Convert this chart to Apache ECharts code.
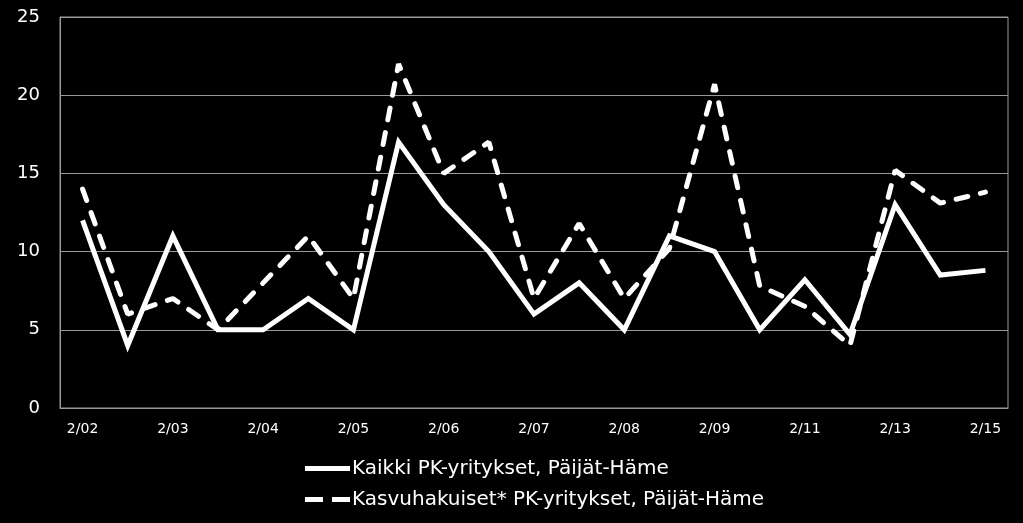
<!DOCTYPE html>
<html>
<head>
<meta charset="utf-8">
<script src="https://cdn.jsdelivr.net/npm/echarts@6/dist/echarts.min.js"></script>
<style>
  html, body { margin: 0; padding: 0; background: #000; }
  #chart { width: 1023px; height: 523px; }
</style>
</head>
<body>
<div id="chart"></div>
<script>
// x categories, only every other one gets a label
const categories = ['2/02', '8/02', '2/03', '8/03', '2/04', '8/04', '2/05', '8/05',
  '2/06', '8/06', '2/07', '8/07', '2/08', '8/08', '2/09', '2/10', '2/11', '2/12',
  '2/13', '2/14', '2/15'];

const kaikki = [12, 4, 11, 5, 5, 7, 5, 17, 13, 10, 6, 8, 5, 11, 10, 5, 8.2, 4.7, 13, 8.5, 8.8];
const kasvuhakuiset = [14, 6, 7, 5, 8, 11, 7, 22, 15, 17, 7, 11.8, 7, 10.2, 20.7, 7.8, 6.5, 4, 15.2, 13.1, 13.8];

const seriesNames = ['Kaikki PK-yritykset, Päijät-Häme', 'Kasvuhakuiset* PK-yritykset, Päijät-Häme'];

const chart = echarts.init(document.getElementById('chart'));

let option = {
  backgroundColor: '#000',
  textStyle: { fontFamily: 'DejaVu Sans' },
  grid: {
    left: 60, right: 15, top: 17, bottom: 115,
    show: true,
    borderColor: '#9a9a9a',
    borderWidth: 1
  },
  legend: {
    orient: 'vertical',
    left: 305,
    top: 458,
    padding: 0,
    itemWidth: 45,
    itemHeight: 5,
    itemGap: 10,
    textStyle: { color: '#fff', fontSize: 20, lineHeight: 21, fontFamily: 'DejaVu Sans', padding: [0, 0, 0, -3] },
    data: [
      { name: seriesNames[0], icon: 'path://M0,0H45V5H0Z' },
      { name: seriesNames[1], icon: 'path://M0,0H18V5H0Z M27,0H45V5H27Z' }
    ]
  },
  xAxis: {
    type: 'category',
    data: categories,
    boundaryGap: true,
    axisLine: { lineStyle: { color: '#9a9a9a', width: 1 } },
    axisTick: { show: false },
    axisLabel: { interval: 1, color: '#fff', fontSize: 14, margin: 14 }
  },
  yAxis: {
    type: 'value',
    min: 0,
    max: 25,
    interval: 5,
    axisLine: { show: true, lineStyle: { color: '#9a9a9a', width: 1 } },
    axisTick: { show: false },
    axisLabel: { color: '#fff', fontSize: 18, margin: 20 },
    splitLine: { lineStyle: { color: '#9a9a9a', width: 1 } }
  },
  series: [{
    name: seriesNames[0],
    type: 'line',
    data: kaikki,
    symbol: 'none',
    color: '#fff',
    lineStyle: { color: '#fff', width: 5, join: 'miter' },
    z: 3
  }, {
    name: seriesNames[1],
    type: 'line',
    data: kasvuhakuiset,
    symbol: 'none',
    color: '#fff',
    lineStyle: { color: '#fff', width: 5, type: [12, 13], cap: 'round' },
    z: 2
  }]
};

chart.setOption(option);
</script>
</body>
</html>
